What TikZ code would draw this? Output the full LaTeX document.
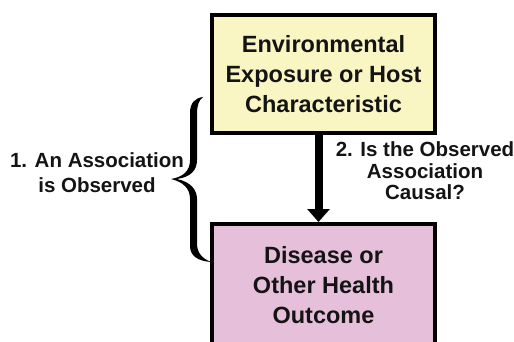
\documentclass[tikz,border=0pt]{standalone}
\usepackage{fontspec}
\setmainfont{Liberation Sans}
\usetikzlibrary{arrows.meta}
\definecolor{boxyellow}{RGB}{250,246,196}
\definecolor{boxpink}{RGB}{230,192,218}
\definecolor{ink}{RGB}{20,20,20}
\begin{document}
\begin{tikzpicture}[x=1pt,y=-1pt,
  box/.style={draw=black, line width=4pt, minimum width=223pt, inner sep=0pt,
    align=center, text=ink, font=\bfseries\fontsize{23.5}{30}\selectfont},
  lbl/.style={align=center, inner sep=0pt, text=ink,
    font=\bfseries\fontsize{20.5}{25}\selectfont}]
\useasboundingbox (0,0) rectangle (514,342);
\node[box, fill=boxyellow, minimum height=118pt] (expo) at (323.5,74)
  {Environmental\\Exposure or Host\\Characteristic};
\node[box, fill=boxpink, minimum height=122pt] (outc) at (323.5,285)
  {Disease or\\Other Health\\Outcome};
\draw[line width=8pt, -{Triangle[width=22pt,length=13pt]}]
  ([xshift=-5pt]expo.south) -- ([xshift=-5pt]outc.north);
% curly brace
\fill[black] (203,97) .. controls (195,98) and (190,103) .. (190,113)
  -- (190,160) .. controls (190,171) and (183,177) .. (171,179)
  .. controls (183,182) and (190,188) .. (190,199)
  -- (190,246) .. controls (190,256) and (198,261) .. (211,262)
  .. controls (201,258) and (197,252) .. (197,243)
  -- (197,199) .. controls (197,190) and (191,182) .. (177,179)
  .. controls (191,177) and (197,170) .. (197,160)
  -- (197,114) .. controls (197,105) and (199,100) .. (203,97) -- cycle;
\node[lbl] (assoc) at (97,173) {1. An Association\\is Observed};
\node[lbl, font=\bfseries\fontsize{20.5}{21.5}\selectfont] (causal) at (425,171)
  {2. Is the Observed\\Association\\Causal?};
\end{tikzpicture}
\end{document}
